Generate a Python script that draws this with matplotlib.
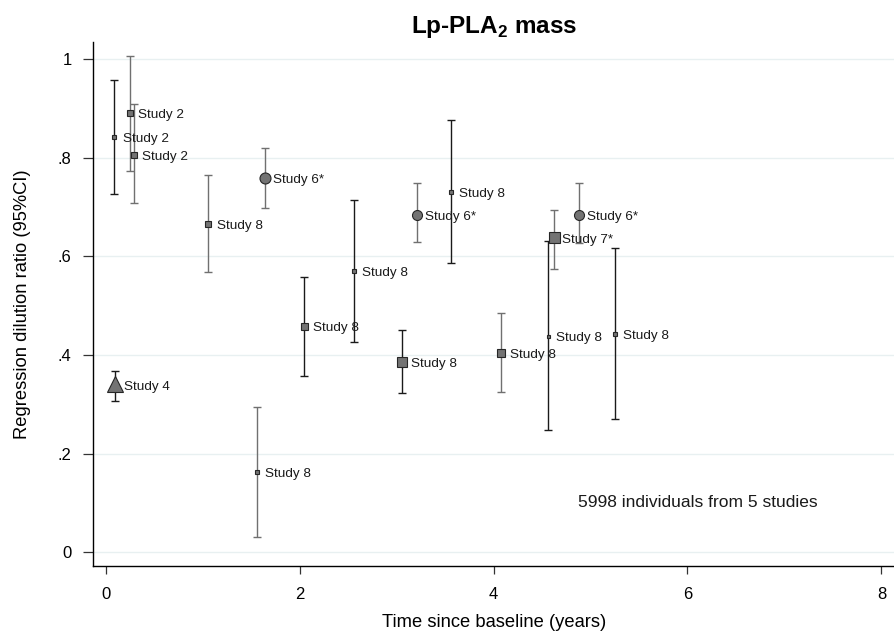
import matplotlib
matplotlib.use("Agg")
import matplotlib.pyplot as plt

plt.rcParams["font.family"] = ["Liberation Sans", "DejaVu Sans"]
plt.rcParams["mathtext.fontset"] = "custom"
plt.rcParams["mathtext.rm"] = "Liberation Sans"
plt.rcParams["mathtext.bf"] = "Liberation Sans:bold"

# data
time = [0.09, 0.25, 0.29, 0.10, 1.06, 1.56, 1.64, 2.05, 2.56,
        3.06, 3.21, 3.56, 4.08, 4.56, 4.62, 4.88, 5.25]
ratio = [0.842, 0.890, 0.805, 0.340, 0.666, 0.163, 0.758, 0.458, 0.571,
         0.385, 0.684, 0.731, 0.403, 0.438, 0.638, 0.684, 0.442]
lower = [0.726, 0.773, 0.707, 0.306, 0.567, 0.030, 0.698, 0.357, 0.427,
         0.322, 0.628, 0.586, 0.325, 0.247, 0.574, 0.626, 0.269]
upper = [0.958, 1.005, 0.908, 0.368, 0.765, 0.295, 0.819, 0.558, 0.713,
         0.450, 0.749, 0.877, 0.485, 0.631, 0.694, 0.749, 0.616]
labels = ["Study 2", "Study 2", "Study 2", "Study 4", "Study 8", "Study 8",
          "Study 6*", "Study 8", "Study 8", "Study 8", "Study 6*", "Study 8",
          "Study 8", "Study 8", "Study 7*", "Study 6*", "Study 8"]
# marker size (pixels) ~ study weight
weights = [5, 6, 6, 16, 6, 4, 11, 7, 5, 10, 10, 5, 8, 3, 11, 10, 4]
bar_grey = [False, True, True, False, True, True, True, False, False,
            False, True, False, True, False, True, True, False]

xticks = [0, 2, 4, 6, 8]
yticks = [0, 0.2, 0.4, 0.6, 0.8, 1.0]
ytick_labels = ["0", ".2", ".4", ".6", ".8", "1"]

fig = plt.figure(figsize=(8.95, 6.34), dpi=100)
ax = fig.add_axes([0.1034, 0.1073, 0.8966, 0.8270])

marker_for = {"Study 4": "^", "Study 6*": "o"}

for i in range(len(time)):
    ecol = "#707070" if bar_grey[i] else "#1a1a1a"
    ax.errorbar(time[i], ratio[i],
                yerr=[[ratio[i] - lower[i]], [upper[i] - ratio[i]]],
                fmt="none", ecolor=ecol, elinewidth=1.0, capsize=2.7,
                capthick=1.0, zorder=2)
    mk = marker_for.get(labels[i], "s")
    ms = weights[i] * 0.72
    ax.plot(time[i], ratio[i], marker=mk, markersize=ms,
            markerfacecolor="#737373", markeredgecolor="#262626",
            markeredgewidth=0.8, linestyle="none", zorder=3)
    ax.annotate(labels[i], (time[i], ratio[i]), xytext=(6.1, -1.5),
                textcoords="offset points", ha="left", va="center",
                fontsize=9.7, color="#1a1a1a", zorder=4)

ax.text(4.87, 0.101, "5998 individuals from 5 studies", fontsize=12.5,
        ha="left", va="center", color="#1a1a1a")

ax.set_xlim(-0.135, 8.14)
ax.set_ylim(-0.028, 1.035)
ax.set_xticks(xticks)
ax.set_yticks(yticks)
ax.set_yticklabels(ytick_labels)
ax.yaxis.grid(True, color="#e8f0f1", linewidth=1.0)
ax.set_axisbelow(True)

for side in ["top", "right"]:
    ax.spines[side].set_visible(False)
for side in ["left", "bottom"]:
    ax.spines[side].set_linewidth(1.0)

ax.tick_params(axis="y", length=7, width=0.9, pad=8, labelsize=12,
               color="#333333")
ax.tick_params(axis="x", length=6, width=0.9, pad=9, labelsize=12,
               color="#333333")

ax.set_xlabel("Time since baseline (years)", fontsize=13.2, labelpad=9)
ax.set_ylabel("Regression dilution ratio (95%CI)", fontsize=13.2, labelpad=19)
ax.set_title(r"Lp-PLA$_\mathbf{2}$ mass", fontsize=17.5, fontweight="bold",
             pad=6)

fig.savefig("out.png", dpi=100)
